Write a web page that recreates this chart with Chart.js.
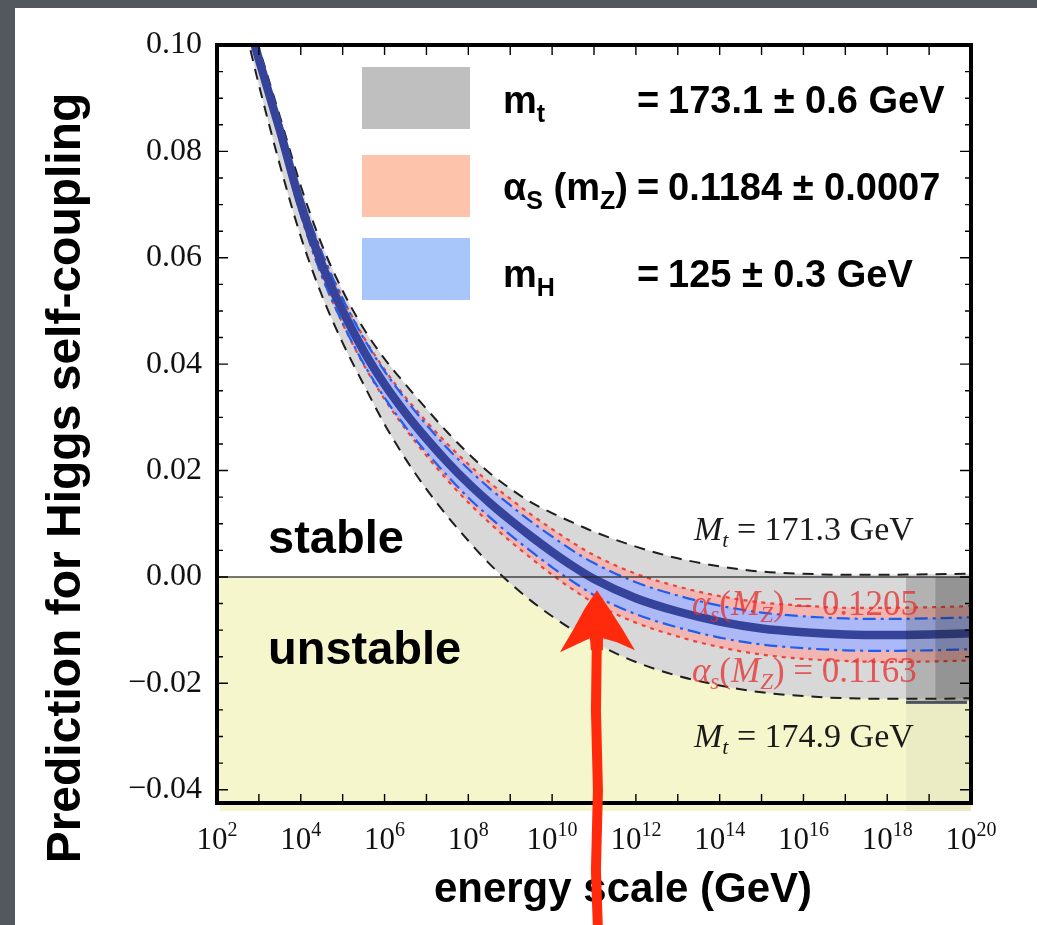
<!DOCTYPE html>
<html><head><meta charset="utf-8">
<script src="https://cdn.jsdelivr.net/npm/chart.js@4.4.1/dist/chart.umd.min.js"></script>
<style>
html,body{margin:0;padding:0;width:1037px;height:925px;overflow:hidden;background:#53575e;}
#panel{position:absolute;left:15px;top:8px;width:1022px;height:917px;background:#fff;}
#c{position:absolute;left:0;top:0;}
</style></head><body>
<div id="panel"></div>
<canvas id="c" width="1037" height="925"></canvas>
<script>
// ---- data (x = log10 of energy scale in GeV, y = Higgs quartic coupling lambda) ----
const energyExp = [2.8, 3, 3.5, 4, 4.5, 5, 5.5, 6, 6.5, 7, 7.5, 8, 8.5, 9, 9.5, 10, 10.5, 11, 12, 13, 14, 15, 16, 17, 18, 19, 20];
const lambdaCentral = [0.1029, 0.0973, 0.0840, 0.0700, 0.0588, 0.0500, 0.0425, 0.0362, 0.0308, 0.0260, 0.0216, 0.0176, 0.0140, 0.0107, 0.0076, 0.0047, 0.0020, -0.0004, -0.0040, -0.0065, -0.0084, -0.0097, -0.0104, -0.0108, -0.0109, -0.0108, -0.0106];
const lambdaMt1713 = [0.1045, 0.0995, 0.0866, 0.0735, 0.0625, 0.0538, 0.0467, 0.0410, 0.0362, 0.0316, 0.0272, 0.0232, 0.0196, 0.0166, 0.0140, 0.0120, 0.0102, 0.0085, 0.0057, 0.0035, 0.0020, 0.0010, 0.0006, 0.0004, 0.0004, 0.0005, 0.0006];
const lambdaMt1749 = [0.0990, 0.0925, 0.0775, 0.0640, 0.0530, 0.0440, 0.0362, 0.0287, 0.0222, 0.0165, 0.0114, 0.0068, 0.0025, -0.0012, -0.0045, -0.0074, -0.0100, -0.0123, -0.0160, -0.0186, -0.0204, -0.0217, -0.0224, -0.0228, -0.0229, -0.0229, -0.0228];
const lambdaAs1205 = [0.1037, 0.0984, 0.0855, 0.0719, 0.0610, 0.0524, 0.0451, 0.0390, 0.0338, 0.0292, 0.0250, 0.0212, 0.0178, 0.0147, 0.0117, 0.0090, 0.0064, 0.0041, 0.0006, -0.0018, -0.0036, -0.0048, -0.0054, -0.0058, -0.0058, -0.0057, -0.0055];
const lambdaAs1163 = [0.1021, 0.0962, 0.0825, 0.0681, 0.0566, 0.0476, 0.0399, 0.0334, 0.0278, 0.0228, 0.0182, 0.0140, 0.0102, 0.0067, 0.0035, 0.0004, -0.0024, -0.0049, -0.0086, -0.0112, -0.0132, -0.0146, -0.0154, -0.0158, -0.0160, -0.0159, -0.0157];
const lambdaMhHigh = [0.1037, 0.0984, 0.0855, 0.0719, 0.0610, 0.0523, 0.0449, 0.0387, 0.0334, 0.0286, 0.0242, 0.0203, 0.0167, 0.0135, 0.0104, 0.0076, 0.0049, 0.0026, -0.0010, -0.0035, -0.0054, -0.0067, -0.0074, -0.0078, -0.0079, -0.0078, -0.0076];
const lambdaMhLow = [0.1021, 0.0962, 0.0825, 0.0681, 0.0566, 0.0477, 0.0401, 0.0337, 0.0282, 0.0234, 0.0190, 0.0149, 0.0113, 0.0079, 0.0048, 0.0018, -0.0009, -0.0034, -0.0070, -0.0095, -0.0114, -0.0127, -0.0134, -0.0138, -0.0139, -0.0138, -0.0136];

const xTickExps = [2,3,4,5,6,7,8,9,10,11,12,13,14,15,16,17,18,19,20];
const xTickLabels = ['10^2','','10^4','','10^6','','10^8','','10^10','','10^12','','10^14','','10^16','','10^18','','10^20'];
const yTickValues = [-0.04, -0.02, 0.00, 0.02, 0.04, 0.06, 0.08, 0.10];
const yTickLabels = ['\u22120.04', '\u22120.02', '0.00', '0.02', '0.04', '0.06', '0.08', '0.10'];

const legendLabels = ['173.1 \u00b1 0.6 GeV', '0.1184 \u00b1 0.0007', '125 \u00b1 0.3 GeV'];
const planckShade = {from: 18.45, mid: 19.15, to: 20, bottom: -0.0233};
const arrowTip = {x: 11.07, y: -0.0025};

const SANS = '"Liberation Sans", Arial, Helvetica, sans-serif';
const SERIF = '"Liberation Serif", "Times New Roman", serif';

const pts = arr => energyExp.map((x, i) => ({x: x, y: arr[i]}));

function rich(ctx, x, y, parts) {
  let cx = x;
  for (const p of parts) {
    ctx.font = p.f;
    ctx.fillStyle = p.c || '#000';
    ctx.fillText(p.t, cx, y + (p.dy || 0));
    cx += ctx.measureText(p.t).width + (p.sp || 0);
  }
  return cx;
}
function richWidth(ctx, parts) {
  let w = 0;
  for (const p of parts) { ctx.font = p.f; w += ctx.measureText(p.t).width + (p.sp || 0); }
  return w;
}

const deco = {
  id: 'deco',
  beforeDraw(chart) {
    const {ctx, chartArea: a, scales: {y}} = chart;
    const y0 = y.getPixelForValue(0);
    ctx.save();
    ctx.fillStyle = '#f5f6cb';
    ctx.fillRect(a.left, y0, a.right - a.left, a.bottom - y0);
    ctx.fillRect(a.left + 3, a.bottom, a.right - a.left - 3, 8);
    ctx.restore();
  },
  afterDatasetsDraw(chart) {
    const {ctx, chartArea: a, scales: {x, y}} = chart;
    const y0 = y.getPixelForValue(0);
    ctx.save();
    // zero line
    ctx.strokeStyle = 'rgba(40,40,40,0.85)';
    ctx.lineWidth = 1.5;
    ctx.beginPath(); ctx.moveTo(a.left, y0); ctx.lineTo(a.right, y0); ctx.stroke();

    // Planck-region shading
    const xs = x.getPixelForValue(planckShade.from), xm = x.getPixelForValue(planckShade.mid), xe = x.getPixelForValue(planckShade.to);
    const yb = y.getPixelForValue(planckShade.bottom);
    ctx.fillStyle = 'rgba(30,30,30,0.2)';
    ctx.fillRect(xs, y0, xe - xs, yb - y0);
    ctx.fillStyle = 'rgba(30,30,30,0.2)';
    ctx.fillRect(xm, y0, xe - xm, yb - y0);
    ctx.fillStyle = 'rgba(0,0,0,0.04)';
    ctx.fillRect(xs, yb, xe - xs, a.bottom + 8 - yb);
    ctx.fillStyle = '#4b5263';
    ctx.fillRect(xs, yb, xe - xs - 4, 3);

    // region labels
    ctx.textBaseline = 'alphabetic';
    ctx.textAlign = 'left';
    ctx.fillStyle = '#000';
    ctx.font = 'bold 47px ' + SANS;
    ctx.fillText('stable', 268, 553);
    ctx.fillText('unstable', 268, 664);

    // curve annotations
    const mk = (sz, sub) => ({it: 'italic ' + sz + 'px ' + SERIF, rg: sz + 'px ' + SERIF, its: 'italic ' + sub + 'px ' + SERIF});
    const k = mk(34, 22), dk = '#1a1a1a';
    rich(ctx, 694, 540, [{t: 'M', f: k.it, c: dk}, {t: 't', f: k.its, dy: 7, c: dk}, {t: ' = 171.3 GeV', f: k.rg, c: dk}]);
    rich(ctx, 694, 747, [{t: 'M', f: k.it, c: dk}, {t: 't', f: k.its, dy: 7, c: dk}, {t: ' = 174.9 GeV', f: k.rg, c: dk}]);
    const r = mk(35, 23), red = 'rgba(228,50,50,0.78)';
    rich(ctx, 692, 615, [{t: '\u03b1', f: r.it, c: red}, {t: 's', f: r.its, dy: 7, c: red}, {t: '(', f: r.rg, c: red}, {t: 'M', f: r.it, c: red}, {t: 'Z', f: r.its, dy: 7, c: red}, {t: ') = 0.1205', f: r.rg, c: red}]);
    rich(ctx, 692, 682, [{t: '\u03b1', f: r.it, c: red}, {t: 's', f: r.its, dy: 7, c: red}, {t: '(', f: r.rg, c: red}, {t: 'M', f: r.it, c: red}, {t: 'Z', f: r.its, dy: 7, c: red}, {t: ') = 0.1163', f: r.rg, c: red}]);

    // frame
    ctx.strokeStyle = '#000';
    ctx.lineWidth = 4;
    ctx.strokeRect(a.left, a.top, a.right - a.left, a.bottom - a.top);

    // ticks (inside, all four sides)
    ctx.lineWidth = 1.4;
    ctx.beginPath();
    for (let kk = -8; kk <= 20; kk++) {
      const v = kk * 0.005;
      const py = y.getPixelForValue(v);
      const len = (kk % 4 === 0) ? 11 : 6;
      ctx.moveTo(a.left, py); ctx.lineTo(a.left + len, py);
      ctx.moveTo(a.right, py); ctx.lineTo(a.right - len, py);
    }
    for (const e of xTickExps) {
      const px = x.getPixelForValue(e);
      ctx.moveTo(px, a.bottom); ctx.lineTo(px, a.bottom - 9);
      ctx.moveTo(px, a.top); ctx.lineTo(px, a.top + 10);
    }
    ctx.stroke();

    // x tick labels: base 10 with a raised exponent
    ctx.fillStyle = '#111';
    x.ticks.forEach(t => {
      const i = xTickExps.indexOf(t.value);
      if (i < 0 || !xTickLabels[i]) return;
      const [base, ex] = xTickLabels[i].split('^');
      const parts = [{t: base, f: '31px ' + SERIF, c: '#111'}, {t: ex, f: '20px ' + SERIF, dy: -13, c: '#111'}];
      const w = richWidth(ctx, parts);
      rich(ctx, x.getPixelForValue(t.value) - w / 2, 849, parts);
    });

    // legend
    const sw = [['#bfbfbf', 67], ['#fdc4ab', 155], ['#a8c6fa', 238]];
    for (const [c, t] of sw) { ctx.fillStyle = c; ctx.fillRect(362, t, 108, 62); }
    const B = 'bold 38px ' + SANS, BS = 'bold 25px ' + SANS;
    rich(ctx, 503, 113, [{t: 'm', f: B}, {t: 't', f: BS, dy: 9}]);
    rich(ctx, 503, 200, [{t: '\u03b1', f: B}, {t: 'S', f: BS, dy: 9}, {t: ' (m', f: B}, {t: 'Z', f: BS, dy: 9}, {t: ')', f: B}]);
    rich(ctx, 503, 287, [{t: 'm', f: B}, {t: 'H', f: BS, dy: 9}]);
    ctx.font = B; ctx.fillStyle = '#000';
    [113, 200, 287].forEach((by, i) => {
      ctx.fillText('=', 637, by);
      ctx.fillText(legendLabels[i], 668, by);
    });

    // axis titles
    ctx.font = 'bold 42px ' + SANS;
    ctx.textAlign = 'center';
    ctx.fillText('energy scale (GeV)', 623, 902);
    ctx.save();
    ctx.translate(80, 478);
    ctx.rotate(-Math.PI / 2);
    ctx.font = 'bold 48px ' + SANS;
    ctx.fillText('Prediction for Higgs self-coupling', 0, 0);
    ctx.restore();
    ctx.restore();
  },
  afterDraw(chart) {
    const {ctx, scales: {x, y}} = chart;
    const tx = x.getPixelForValue(arrowTip.x), ty = y.getPixelForValue(arrowTip.y);
    ctx.save();
    ctx.fillStyle = '#ff2a0c';
    ctx.strokeStyle = '#ff2a0c';
    ctx.beginPath();
    ctx.moveTo(tx, ty);
    ctx.lineTo(tx + 12, ty + 18);
    ctx.lineTo(tx + 25, ty + 38);
    ctx.lineTo(tx + 38, ty + 60);
    ctx.lineTo(tx + 20, ty + 52);
    ctx.lineTo(tx + 6, ty + 48);
    ctx.lineTo(tx + 6, ty + 60);
    ctx.lineTo(tx - 6, ty + 60);
    ctx.lineTo(tx - 7, ty + 48);
    ctx.lineTo(tx - 22, ty + 55);
    ctx.lineTo(tx - 37, ty + 62);
    ctx.lineTo(tx - 24, ty + 40);
    ctx.lineTo(tx - 12, ty + 18);
    ctx.closePath();
    ctx.fill();
    ctx.lineWidth = 10;
    ctx.lineCap = 'round';
    ctx.beginPath();
    ctx.moveTo(tx, ty + 45);
    ctx.lineTo(tx - 1, ty + 120);
    ctx.lineTo(tx + 1, ty + 200);
    ctx.lineTo(tx - 1, ty + 280);
    ctx.lineTo(tx + 1, 930);
    ctx.stroke();
    ctx.restore();
  }
};

const common = {pointRadius: 0, pointHoverRadius: 0, cubicInterpolationMode: 'monotone', clip: 0};

new Chart(document.getElementById('c'), {
  type: 'line',
  data: {
    datasets: [
      Object.assign({label: 'central', data: pts(lambdaCentral), borderColor: '#35449a', borderWidth: 8.5, fill: false, order: 0, borderCapStyle: 'round'}, common),
      Object.assign({label: 'mH = 125.3', data: pts(lambdaMhHigh), borderColor: '#1f5ef2', borderWidth: 2.2, borderDash: [13, 5, 3, 5], fill: '+1', backgroundColor: '#adb9f7', order: 1}, common),
      Object.assign({label: 'mH = 124.7', data: pts(lambdaMhLow), borderColor: '#1f5ef2', borderWidth: 2.2, borderDash: [13, 5, 3, 5], fill: false, order: 1}, common),
      Object.assign({label: 'alphas = 0.1205', data: pts(lambdaAs1205), borderColor: '#e8453d', borderWidth: 2.2, borderDash: [4, 5], fill: '+1', backgroundColor: '#f2b6b2', order: 2}, common),
      Object.assign({label: 'alphas = 0.1163', data: pts(lambdaAs1163), borderColor: '#e8453d', borderWidth: 2.2, borderDash: [4, 5], fill: false, order: 2}, common),
      Object.assign({label: 'Mt = 171.3', data: pts(lambdaMt1713), borderColor: '#1e1e1e', borderWidth: 2, borderDash: [11, 8], fill: '+1', backgroundColor: '#d8d8d8', order: 3}, common),
      Object.assign({label: 'Mt = 174.9', data: pts(lambdaMt1749), borderColor: '#1e1e1e', borderWidth: 2, borderDash: [11, 8], fill: false, order: 3}, common)
    ]
  },
  options: {
    responsive: false,
    animation: false,
    devicePixelRatio: 1,
    layout: {padding: {left: 0, top: 45, right: 66, bottom: 0}},
    plugins: {
      legend: {display: false},
      tooltip: {enabled: false},
      filler: {propagate: false, drawTime: 'beforeDatasetsDraw'}
    },
    scales: {
      x: {
        type: 'linear', min: 2, max: 20,
        afterBuildTicks: s => { s.ticks = xTickExps.map(v => ({value: v})); },
        afterFit: s => { s.height = 122; },
        grid: {display: false, drawTicks: false},
        border: {display: false},
        ticks: {display: false, autoSkip: false, maxRotation: 0}
      },
      y: {
        type: 'linear', min: -0.0425, max: 0.10,
        afterBuildTicks: s => { s.ticks = yTickValues.map(v => ({value: v})); },
        afterFit: s => { s.width = 217; },
        grid: {display: false, drawTicks: false},
        border: {display: false},
        ticks: {
          padding: 15, color: '#111',
          font: {family: SERIF, size: 32},
          callback: v => { const i = yTickValues.findIndex(t => Math.abs(t - v) < 1e-9); return i >= 0 ? yTickLabels[i] : ''; }
        }
      }
    }
  },
  plugins: [deco]
});
</script>
</body></html>
